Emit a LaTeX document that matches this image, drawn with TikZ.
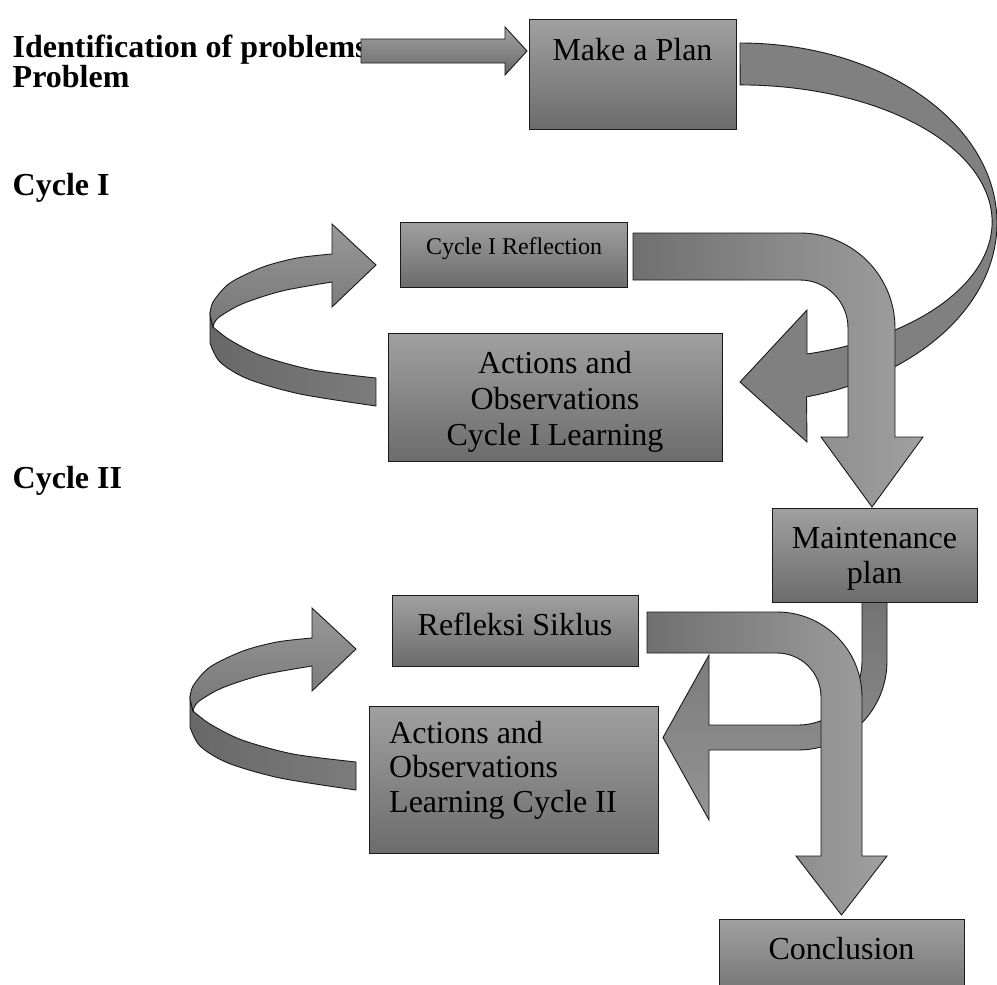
\documentclass[tikz,border=0pt]{standalone}
\usepackage{fontspec}
\setmainfont{Liberation Serif}
\definecolor{boxtop}{RGB}{160,160,160}
\definecolor{boxbot}{RGB}{108,108,108}
\definecolor{arrT}{RGB}{162,162,162}
\definecolor{arrB}{RGB}{104,104,104}
\definecolor{curvefill}{RGB}{128,128,128}
\definecolor{hookL}{RGB}{112,112,112}
\definecolor{hookR}{RGB}{160,160,160}
\definecolor{mlT}{RGB}{115,115,115}
\definecolor{mlB}{RGB}{148,148,148}
\definecolor{ribLT}{RGB}{152,152,152}
\definecolor{ribLB}{RGB}{118,118,118}
\definecolor{ribDL}{RGB}{104,104,104}
\definecolor{ribDR}{RGB}{124,124,124}
\newcommand{\ribbonshape}{%
  \shade[outl, left color=ribDL, right color=ribDR]
    (210,315) -- (210,343)
    -- plot[smooth] coordinates {(210,343) (220,362) (248,379) (300,394) (376,406)}
    -- (376,378)
    -- plot[smooth] coordinates {(376,378) (313,370) (262,356) (230,340) (213,327)}
    -- cycle;
  \shade[outl, top color=ribLT, bottom color=ribLB]
    (213,327) -- (210,315)
    -- plot[smooth] coordinates {(210,315) (213,302) (230,283) (263,267) (297,258) (332,254)}
    -- (332,224) -- (376,265) -- (332,307) -- (332,282)
    -- plot[smooth] coordinates {(332,282) (282,291) (242,304) (218,318) (213,327)}
    -- cycle;
}
\begin{document}
\begin{tikzpicture}[x=1pt,y=-1pt,
  outl/.style={draw=black!90, line width=0.9pt, line join=miter},
  boxsh/.style={outl, top color=boxtop, bottom color=boxbot, inner sep=0pt, outer sep=0pt},
  lbl/.style={font=\bfseries\fontsize{32}{36}\selectfont, anchor=base west, inner sep=0pt},
  txt/.style={font=\fontsize{32}{36}\selectfont, anchor=base, inner sep=0pt},
  txtl/.style={font=\fontsize{32}{36}\selectfont, anchor=base west, inner sep=0pt},
  smalltxt/.style={font=\fontsize{24}{28}\selectfont, anchor=base, inner sep=0pt}]
\useasboundingbox (0,0) rectangle (997,985);
\clip (0,0) rectangle (997,985);

% left labels
\node[lbl] (idp) at (12.5,57) {Identification of problems};
\node[lbl] (prob) at (12.5,87) {Problem};
\node[lbl] (cyc1) at (12.5,195) {Cycle I};
\node[lbl] (cyc2) at (12.5,488) {Cycle II};

% straight arrow to plan
\shade[outl, top color=arrT, bottom color=arrB]
  (361,39) -- (505,39) -- (505,27) -- (527,51) -- (505,75) -- (505,63) -- (361,63) -- cycle;

% big curved arrow from plan to actions I
\path[outl, fill=curvefill]
  (740,43) arc[start angle=-90, end angle=75, x radius=257, y radius=180]
  -- (807,442) -- (740,382) -- (807,310) -- (807,354)
  arc[start angle=74.6, end angle=-90, x radius=252, y radius=137] -- cycle;

% cycle I hook arrow (reflection -> maintenance)
\shade[outl, left color=hookL, right color=hookR]
  (633,233) -- (800,233) arc[start angle=-90, end angle=0, radius=95]
  -- (895,437) -- (923,437) -- (872,507) -- (821,437) -- (848,437) -- (848,328)
  arc[start angle=0, end angle=-90, radius=48] -- (633,280) -- cycle;

% cycle I ribbon
\ribbonshape

% cycle II left arrow from maintenance
\shade[outl, top color=mlT, bottom color=mlB]
  (887,600) -- (887,661) arc[start angle=0, end angle=90, radius=89]
  -- (709,750) -- (709,820) -- (663,737.5) -- (709,655) -- (709,725) -- (798,725)
  arc[start angle=90, end angle=0, radius=64] -- (862,600) -- cycle;

% cycle II hook arrow (reflection -> conclusion)
\shade[outl, left color=hookL, right color=hookR]
  (647,612) -- (777,612) arc[start angle=-90, end angle=0, radius=85]
  -- (862,856) -- (887,856) -- (841.5,915) -- (796,856) -- (821,856) -- (821,697)
  arc[start angle=0, end angle=-90, radius=44] -- (647,653) -- cycle;

% cycle II ribbon
\begin{scope}[shift={(-20,384)}]
\ribbonshape
\end{scope}

% boxes
\node[boxsh, minimum width=207, minimum height=110] (plan) at (632.5,74) {};
\node[boxsh, minimum width=227, minimum height=65] (refl1) at (513.5,254.5) {};
\node[boxsh, minimum width=334, minimum height=128] (act1) at (555,397) {};
\node[boxsh, minimum width=205, minimum height=94] (maint) at (874.5,555) {};
\node[boxsh, minimum width=246, minimum height=71] (refl2) at (515,630.5) {};
\node[boxsh, minimum width=289, minimum height=147] (act2) at (513.5,779.5) {};
\node[boxsh, minimum width=245, minimum height=90] (concl) at (841.5,964) {};

% box texts
\node[txt] (plant) at (632.5,60) {Make a Plan};
\node[smalltxt] (refl1t) at (514,254) {Cycle I Reflection};
\node[txt] (act1a) at (555,373) {Actions and};
\node[txt] (act1b) at (555,409) {Observations};
\node[txt] (act1c) at (555,445) {Cycle I Learning};
\node[txt] (mainta) at (874.5,548) {Maintenance};
\node[txt] (maintb) at (874.5,583) {plan};
\node[txt] (refl2t) at (515,635) {Refleksi Siklus};
\node[txtl] (act2a) at (389,743) {Actions and};
\node[txtl] (act2b) at (389,777) {Observations};
\node[txtl] (act2c) at (389,812) {Learning Cycle II};
\node[txt] (conclt) at (841.5,959) {Conclusion};
\end{tikzpicture}
\end{document}
